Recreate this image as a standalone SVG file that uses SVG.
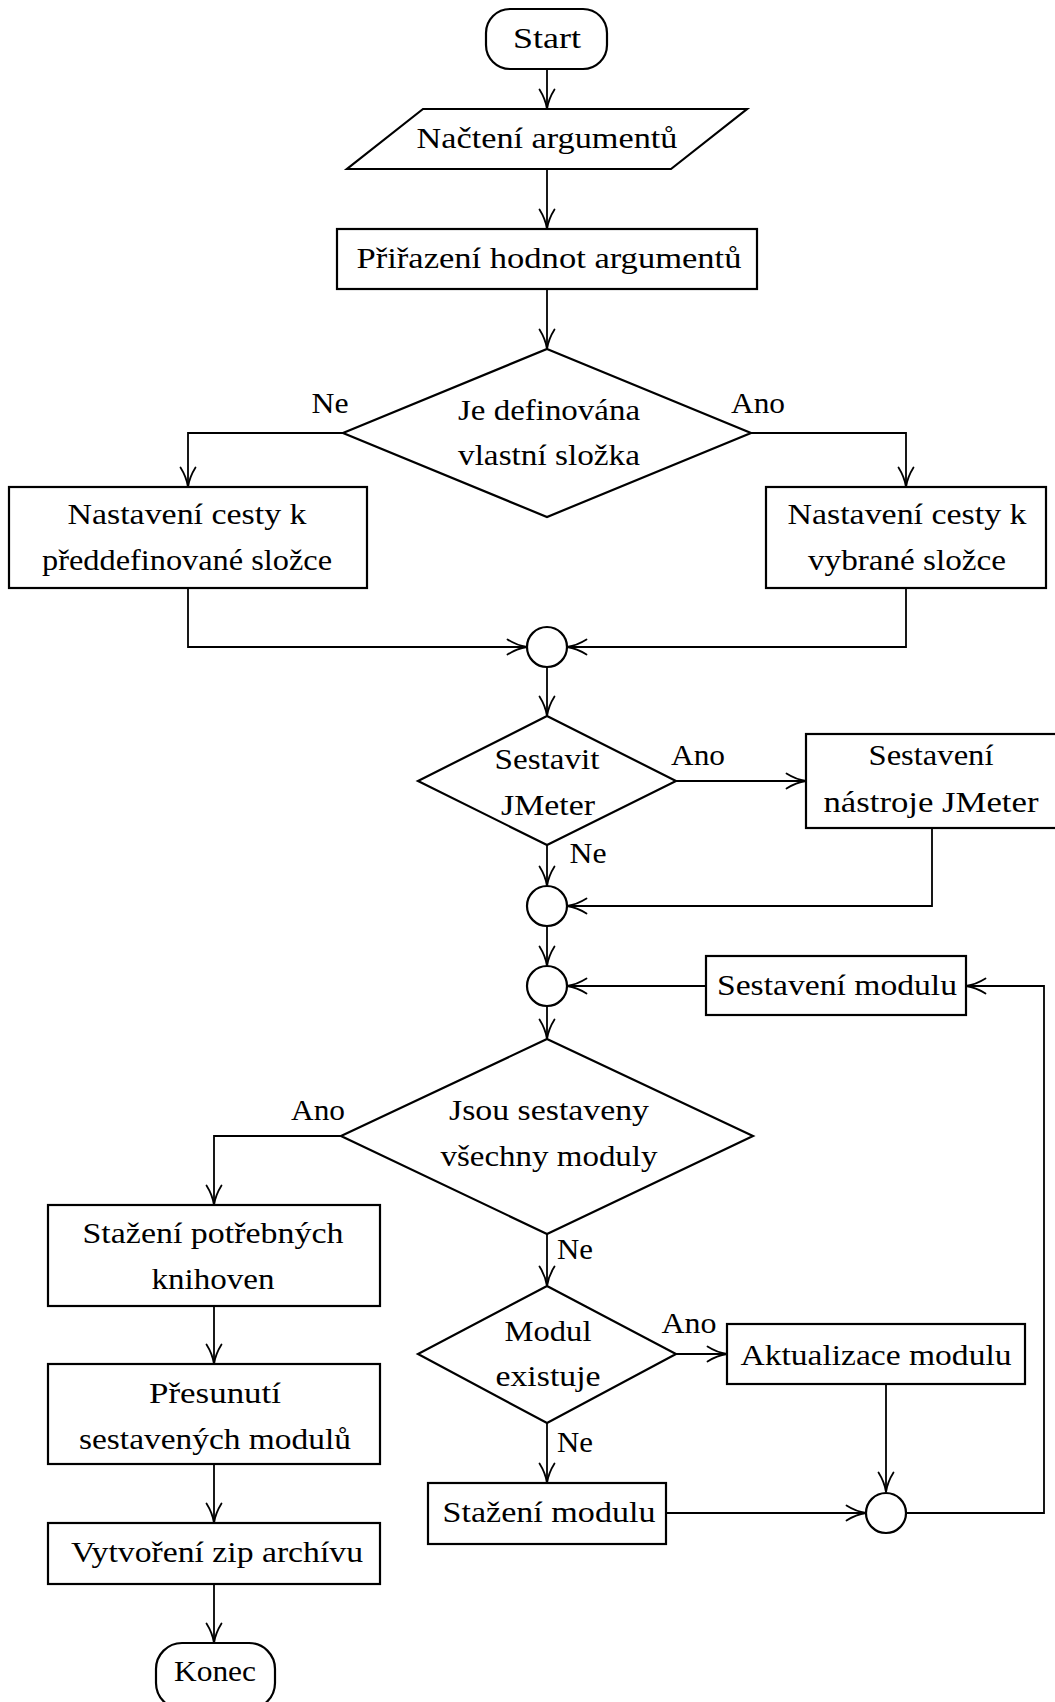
<svg xmlns="http://www.w3.org/2000/svg" width="1055" height="1702" viewBox="0 0 1055 1702">
<style>
.s{fill:#fff;stroke:#000;stroke-width:2.2}
.c{fill:none;stroke:#000;stroke-width:1.8}
.t text{font-size:30px;fill:#000;text-anchor:middle}
</style>
<defs>
<marker id="a" markerUnits="userSpaceOnUse" markerWidth="24" markerHeight="20" refX="20" refY="10" orient="auto" overflow="visible">
<path d="M0.5,2.5 Q10,8.5 20,10 Q10,11.5 0.5,17.5" fill="none" stroke="#000" stroke-width="1.8" stroke-linecap="round"/>
</marker>
</defs>
<rect width="1055" height="1702" fill="#fff"/>
<g id="connectors" class="c" marker-end="url(#a)">
<path d="M547,69 V109"/>
<path d="M547,169 V229"/>
<path d="M547,289 V349"/>
<path d="M343,433 H188 V487"/>
<path d="M751,433 H906 V487"/>
<path d="M188,588 V647 H527"/>
<path d="M906,588 V647 H567"/>
<path d="M547,667 V716"/>
<path d="M676,781 H806"/>
<path d="M547,845 V886"/>
<path d="M932,828 V906 H567"/>
<path d="M547,926 V966"/>
<path d="M706,986 H567"/>
<path d="M547,1006 V1039"/>
<path d="M341,1136 H214 V1205"/>
<path d="M547,1234 V1286"/>
<path d="M676,1354 H727"/>
<path d="M547,1423 V1483"/>
<path d="M886,1384 V1492"/>
<path d="M666,1513 H866"/>
<path d="M906,1513 H1044 V986 H966"/>
<path d="M214,1306 V1364"/>
<path d="M214,1464 V1523"/>
<path d="M214,1584 V1643"/>
</g>
<g class="t" font-family="'Liberation Serif', 'DejaVu Serif', 'Noto Serif', serif">
<g id="labels">
<text x="330" y="413" textLength="37" lengthAdjust="spacingAndGlyphs">Ne</text>
<text x="758" y="413" textLength="54" lengthAdjust="spacingAndGlyphs">Ano</text>
<text x="698" y="765" textLength="54" lengthAdjust="spacingAndGlyphs">Ano</text>
<text x="588" y="863" textLength="37" lengthAdjust="spacingAndGlyphs">Ne</text>
<text x="318" y="1120" textLength="54" lengthAdjust="spacingAndGlyphs">Ano</text>
<text x="575" y="1259" textLength="36" lengthAdjust="spacingAndGlyphs">Ne</text>
<text x="689" y="1333" textLength="55" lengthAdjust="spacingAndGlyphs">Ano</text>
<text x="575" y="1452" textLength="36" lengthAdjust="spacingAndGlyphs">Ne</text>
</g>
<g id="start">
<rect class="s" x="486" y="9" width="121" height="60" rx="24"/>
<text x="547" y="48" textLength="68" lengthAdjust="spacingAndGlyphs">Start</text>
</g>
<g id="nacteni">
<polygon class="s" points="423,109 747,109 671,169 347,169"/>
<text x="547" y="148" textLength="261" lengthAdjust="spacingAndGlyphs">Načtení argumentů</text>
</g>
<g id="prirazeni">
<rect class="s" x="337" y="229" width="420" height="60"/>
<text x="549" y="268" textLength="385" lengthAdjust="spacingAndGlyphs">Přiřazení hodnot argumentů</text>
</g>
<g id="dec-slozka">
<polygon class="s" points="547,349 751,433 547,517 343,433"/>
<text x="549" y="420" textLength="182" lengthAdjust="spacingAndGlyphs">Je definována</text>
<text x="549" y="465" textLength="182" lengthAdjust="spacingAndGlyphs">vlastní složka</text>
</g>
<g id="cesta-pred">
<rect class="s" x="9" y="487" width="358" height="101"/>
<text x="187" y="524" textLength="239" lengthAdjust="spacingAndGlyphs">Nastavení cesty k</text>
<text x="187" y="570" textLength="290" lengthAdjust="spacingAndGlyphs">předdefinované složce</text>
</g>
<g id="cesta-vybr">
<rect class="s" x="766" y="487" width="280" height="101"/>
<text x="907" y="524" textLength="239" lengthAdjust="spacingAndGlyphs">Nastavení cesty k</text>
<text x="907" y="570" textLength="198" lengthAdjust="spacingAndGlyphs">vybrané složce</text>
</g>
<g id="merge1"><circle class="s" cx="547" cy="647" r="20"/></g>
<g id="dec-jmeter">
<polygon class="s" points="547,716 676,781 547,845 418,781"/>
<text x="547" y="769" textLength="105" lengthAdjust="spacingAndGlyphs">Sestavit</text>
<text x="548" y="815" textLength="94" lengthAdjust="spacingAndGlyphs">JMeter</text>
</g>
<g id="jmeter">
<rect class="s" x="806" y="734" width="260" height="94"/>
<text x="931" y="765" textLength="125" lengthAdjust="spacingAndGlyphs">Sestavení</text>
<text x="931" y="812" textLength="215" lengthAdjust="spacingAndGlyphs">nástroje JMeter</text>
</g>
<g id="merge2"><circle class="s" cx="547" cy="906" r="20"/></g>
<g id="merge3"><circle class="s" cx="547" cy="986" r="20"/></g>
<g id="sestaveni-modulu">
<rect class="s" x="706" y="956" width="260" height="59"/>
<text x="837" y="995" textLength="240" lengthAdjust="spacingAndGlyphs">Sestavení modulu</text>
</g>
<g id="dec-vsechny">
<polygon class="s" points="547,1039 753,1136 547,1234 341,1136"/>
<text x="549" y="1120" textLength="200" lengthAdjust="spacingAndGlyphs">Jsou sestaveny</text>
<text x="549" y="1166" textLength="217" lengthAdjust="spacingAndGlyphs">všechny moduly</text>
</g>
<g id="knihovny">
<rect class="s" x="48" y="1205" width="332" height="101"/>
<text x="213" y="1243" textLength="261" lengthAdjust="spacingAndGlyphs">Stažení potřebných</text>
<text x="213" y="1289" textLength="123" lengthAdjust="spacingAndGlyphs">knihoven</text>
</g>
<g id="dec-existuje">
<polygon class="s" points="547,1286 676,1354 547,1423 418,1354"/>
<text x="548" y="1341" textLength="87" lengthAdjust="spacingAndGlyphs">Modul</text>
<text x="548" y="1386" textLength="105" lengthAdjust="spacingAndGlyphs">existuje</text>
</g>
<g id="aktualizace">
<rect class="s" x="727" y="1324" width="298" height="60"/>
<text x="876" y="1365" textLength="271" lengthAdjust="spacingAndGlyphs">Aktualizace modulu</text>
</g>
<g id="stazeni-modulu">
<rect class="s" x="428" y="1483" width="238" height="61"/>
<text x="549" y="1522" textLength="213" lengthAdjust="spacingAndGlyphs">Stažení modulu</text>
</g>
<g id="merge4"><circle class="s" cx="886" cy="1513" r="20"/></g>
<g id="presunuti">
<rect class="s" x="48" y="1364" width="332" height="100"/>
<text x="215" y="1403" textLength="132" lengthAdjust="spacingAndGlyphs">Přesunutí</text>
<text x="215" y="1449" textLength="272" lengthAdjust="spacingAndGlyphs">sestavených modulů</text>
</g>
<g id="zip">
<rect class="s" x="48" y="1523" width="332" height="61"/>
<text x="217" y="1562" textLength="292" lengthAdjust="spacingAndGlyphs">Vytvoření zip archívu</text>
</g>
<g id="konec">
<rect class="s" x="156" y="1643" width="119" height="66" rx="26"/>
<text x="215" y="1681" textLength="82" lengthAdjust="spacingAndGlyphs">Konec</text>
</g>
</g>
</svg>
